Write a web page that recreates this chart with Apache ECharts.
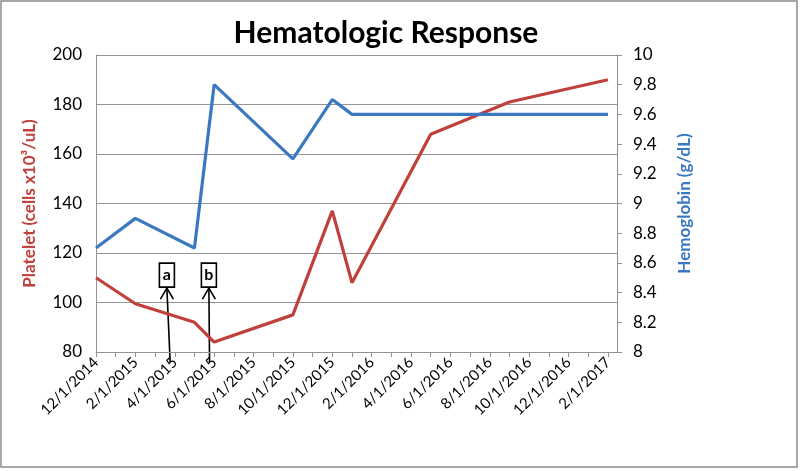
<!DOCTYPE html>
<html>
<head>
<meta charset="utf-8">
<script src="https://cdn.jsdelivr.net/npm/echarts@6/dist/echarts.min.js"></script>
<style>html,body{margin:0;padding:0;background:#fff;}#c{width:800px;height:471px;}</style>
</head>
<body>
<div id="c"></div>
<script>
const tickLabels = ['12/1/2014','2/1/2015','4/1/2015','6/1/2015','8/1/2015','10/1/2015','12/1/2015','2/1/2016','4/1/2016','6/1/2016','8/1/2016','10/1/2016','12/1/2016','2/1/2017'];
const plateletDates = ['12/1/2014','2/1/2015','5/1/2015','6/1/2015','10/1/2015','12/1/2015','1/1/2016','5/1/2016','9/1/2016','2/1/2017'];
const plateletValues = [110, 99.5, 92, 84, 95, 137, 108, 168, 181, 190];
const hgbDates = ['12/1/2014','2/1/2015','5/1/2015','6/1/2015','10/1/2015','12/1/2015','1/1/2016','5/1/2016','9/1/2016','2/1/2017'];
const hgbValues = [8.7, 8.9, 8.7, 9.8, 9.3, 9.7, 9.6, 9.6, 9.6, 9.6];
// annotation markers: label, arrow tip date, arrow base date
const annLabels = ['a', 'b'];
const annTipDates = ['3/19/2015', '5/23/2015'];
const annBaseDates = ['3/24/2015', '5/24/2015'];

function monthIndex(s) {
  const [m, d, y] = s.split('/').map(Number);
  return (y - 2014) * 12 + (m - 12) + (d - 1) / 30;
}
const tickPos = tickLabels.map(monthIndex);
const allTicks = [];
for (let i = 0; i <= tickPos[tickPos.length - 1]; i++) allTicks.push(i);

const red = '#C0413C', blue = '#3B78C2', gray = '#939393';
const font = 'Lato, "Open Sans", sans-serif';

const chart = echarts.init(document.getElementById('c'));
chart.setOption({
  animation: false,
  grid: { left: 96, right: 183, top: 55, bottom: 119 },
  xAxis: {
    type: 'value', min: 0, max: 26.46,
    axisLine: { show: true, lineStyle: { color: gray, width: 1 } },
    axisTick: { show: true, customValues: allTicks, length: 5, lineStyle: { color: gray } },
    axisLabel: {
      customValues: tickPos, rotate: 45, margin: 8, color: '#000', fontSize: 15, fontFamily: font,
      formatter: v => { const i = tickPos.findIndex(p => Math.abs(p - v) < 1e-6); return i >= 0 ? tickLabels[i] : ''; }
    },
    splitLine: { show: false }
  },
  yAxis: [{
    type: 'value', min: 80, max: 200, interval: 20, position: 'left',
    name: 'Platelet (cells x10³/uL)', nameLocation: 'middle', nameGap: 58, nameRotate: 90,
    nameTextStyle: { color: red, fontWeight: 'bold', fontSize: 17, fontFamily: font },
    axisLine: { show: true, lineStyle: { color: gray } },
    axisTick: { show: false },
    axisLabel: { color: '#000', fontSize: 17, fontFamily: font, margin: 14 },
    splitLine: { show: true, lineStyle: { color: gray, width: 1 } }
  }, {
    type: 'value', min: 8, max: 10, interval: 0.2, position: 'right',
    name: 'Hemoglobin (g/dL)', nameLocation: 'middle', nameGap: 59, nameRotate: 90,
    nameTextStyle: { color: blue, fontWeight: 'bold', fontSize: 17, fontFamily: font },
    axisLine: { show: true, lineStyle: { color: gray } },
    axisTick: { show: true, length: 5, lineStyle: { color: gray } },
    axisLabel: { color: '#000', fontSize: 17, fontFamily: font, margin: 16, formatter: v => String(Math.round(v * 10) / 10) },
    splitLine: { show: false }
  }],
  series: [{
    name: 'Platelet', type: 'line', yAxisIndex: 0, showSymbol: false, symbol: 'none',
    lineStyle: { color: red, width: 3.2 }, itemStyle: { color: red },
    data: plateletDates.map((d, i) => [monthIndex(d), plateletValues[i]])
  }, {
    name: 'Hemoglobin', type: 'line', yAxisIndex: 1, showSymbol: false, symbol: 'none',
    lineStyle: { color: blue, width: 3.2 }, itemStyle: { color: blue },
    data: hgbDates.map((d, i) => [monthIndex(d), hgbValues[i]])
  }]
});

const g = [
  { type: 'rect', shape: { x: 1, y: 1, width: 796, height: 466 }, style: { fill: 'none', stroke: '#8A8A8A', lineWidth: 1.5 }, silent: true },
  { type: 'text', x: 386, y: 33, style: { text: 'Hematologic Response', font: 'bold 30px ' + font, fill: '#000', textAlign: 'center', textVerticalAlign: 'middle' } }
];
annLabels.forEach((lab, i) => {
  const tip = chart.convertToPixel({ xAxisIndex: 0, yAxisIndex: 0 }, [monthIndex(annTipDates[i]), 105.8]);
  const base = chart.convertToPixel({ xAxisIndex: 0, yAxisIndex: 0 }, [monthIndex(annBaseDates[i]), 75.8]);
  const bx = tip[0], by = tip[1];
  g.push({ type: 'line', shape: { x1: base[0], y1: base[1], x2: bx, y2: by }, style: { stroke: '#000', lineWidth: 1.6 } });
  g.push({ type: 'polyline', shape: { points: [[bx - 6.5, by + 11], [bx, by], [bx + 6.5, by + 11]] }, style: { stroke: '#000', lineWidth: 1.6, fill: 'none' } });
  g.push({ type: 'rect', shape: { x: bx - 7.5, y: by - 25, width: 15, height: 24 }, style: { fill: '#fff', stroke: '#000', lineWidth: 1.6 } });
  g.push({ type: 'text', x: bx, y: by - 13, style: { text: lab, font: 'bold 16px ' + font, fill: '#000', textAlign: 'center', textVerticalAlign: 'middle' } });
});
chart.setOption({ graphic: g });
</script>
</body>
</html>
